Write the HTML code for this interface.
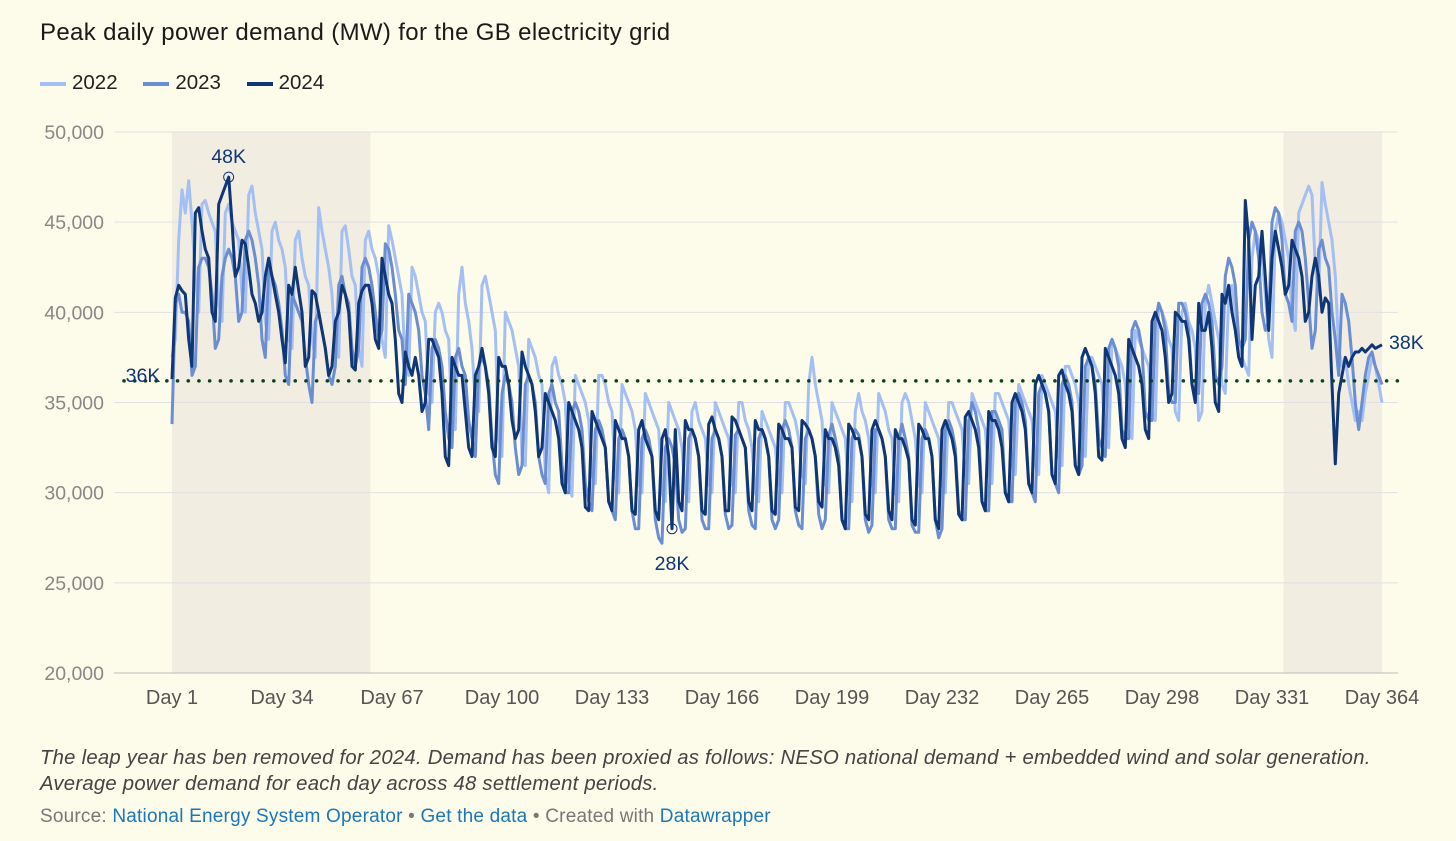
<!DOCTYPE html>
<html><head><meta charset="utf-8">
<style>
body{margin:0;background:#fdfbea;font-family:"Liberation Sans",sans-serif;width:1456px;height:841px;overflow:hidden;position:relative}
.t{position:absolute;white-space:nowrap}
a{color:#1b77b8;text-decoration:none}
</style></head><body>
<div class="t" style="left:40px;top:19px;font-size:24px;letter-spacing:0.35px;color:#1a1a1a">Peak daily power demand (MW) for the GB electricity grid</div>
<div class="t" style="left:40px;top:71px;font-size:20.5px;color:#222">
<span><span style="display:inline-block;width:26px;height:4px;background:#a3bff4;vertical-align:middle;margin-right:6px"></span>2022</span>
<span style="margin-left:20px"><span style="display:inline-block;width:26px;height:4px;background:#6b8dd2;vertical-align:middle;margin-right:6px"></span>2023</span>
<span style="margin-left:20px"><span style="display:inline-block;width:26px;height:4px;background:#0f3676;vertical-align:middle;margin-right:6px"></span>2024</span>
</div>
<svg id="chart" width="1456" height="841" style="position:absolute;left:0;top:0"></svg>
<div class="t" style="left:40px;top:745px;font-size:20.3px;letter-spacing:0.25px;font-style:italic;color:#444;line-height:26px">The leap year has ben removed for 2024. Demand has been proxied as follows: NESO national demand + embedded wind and solar generation.<br>Average power demand for each day across 48 settlement periods.</div>
<div class="t" style="left:40px;top:806px;font-size:19px;letter-spacing:0.2px;color:#777">Source: <a>National Energy System Operator</a> • <a>Get the data</a> • Created with <a>Datawrapper</a></div>
<script>
const yTicks=[20000,25000,30000,35000,40000,45000,50000];
const xTicks=[1,34,67,100,133,166,199,232,265,298,331,364];
const shadeRanges=[[1,60.5],[334.5,364]];
const refValue=36200;
const s2022=[37.5,38.5,44.0,46.8,45.5,47.3,45.0, 42.0,40.0,46.0,46.2,45.5,45.0,44.5, 40.5,39.5,45.5,46.0,45.0,44.5,44.0, 41.0,40.0,46.5,47.0,45.5,44.5,43.5, 39.5,38.5,44.5,45.0,44.0,43.5,42.5, 38.5,38.0,44.0,44.5,43.0,42.0,41.5, 38.5,37.5,45.8,44.5,43.5,42.5,41.0, 38.0,37.5,44.5,44.8,43.5,42.0,41.5, 38.0,37.0,44.0,44.5,43.5,43.0,42.0, 38.5,37.5,44.8,44.0,43.0,42.0,41.0, 37.0,36.5,42.5,42.0,41.0,40.0,39.5, 35.5,35.0,40.0,40.5,40.0,39.0,38.5, 34.0,33.5,41.0,42.5,40.5,39.5,38.0, 35.0,34.5,41.5,42.0,41.0,40.0,39.0, 33.0,32.0,40.0,39.5,39.0,38.0,37.0, 32.0,31.5,38.5,38.0,37.5,36.5,36.0, 31.0,30.0,37.0,37.5,36.5,36.0,35.0, 30.5,29.8,36.5,36.0,35.5,35.0,34.0, 31.0,30.5,36.5,36.5,36.0,35.0,34.5, 31.0,30.0,36.0,35.5,35.0,34.5,33.5, 30.5,30.0,35.5,35.0,34.5,34.0,33.5, 30.0,29.5,35.0,34.5,34.0,33.5,32.5, 30.0,29.5,34.5,35.0,34.0,33.5,33.0, 30.5,30.0,35.0,34.5,34.0,33.5,33.0, 30.5,30.0,35.0,35.0,34.0,33.5,32.5, 30.0,29.5,34.5,34.0,33.5,33.0,32.5, 30.5,30.0,35.0,35.0,34.5,34.0,33.0, 31.0,30.5,36.0,37.5,36.0,35.0,34.0, 30.5,30.0,35.0,34.5,34.0,33.5,33.0, 30.0,29.5,34.5,35.5,34.5,34.0,33.0, 30.5,30.0,35.5,35.0,34.5,33.5,33.0, 30.0,29.5,35.0,35.5,35.0,34.0,33.0, 30.5,30.0,35.0,34.5,34.0,33.5,33.0, 30.5,30.0,35.0,35.0,34.5,34.0,33.5, 31.0,30.5,35.5,35.0,34.5,34.0,33.5, 31.0,30.5,35.5,35.5,35.0,34.5,34.0, 31.5,31.0,36.0,35.5,35.0,34.5,34.0, 31.5,31.0,36.5,36.0,35.5,35.0,34.5, 32.0,31.5,37.0,37.0,36.5,36.0,35.0, 32.5,32.0,37.5,37.5,37.0,36.5,36.0, 33.0,32.5,38.5,38.0,37.5,37.0,36.0, 33.5,33.0,39.0,38.5,38.0,37.5,37.0, 34.5,34.0,40.5,40.0,39.5,38.5,38.0, 34.5,34.0,40.0,40.5,39.5,39.0,38.0, 34.0,34.5,40.5,41.5,40.5,39.5,38.5, 36.0,35.5,41.0,41.5,40.0,38.5,37.5, 37.0,36.5,43.0,44.5,44.0,43.0,41.0, 38.5,37.5,44.5,45.5,45.0,44.0,43.0, 40.0,39.0,45.5,46.0,46.5,47.0,46.5, 42.5,41.0,47.2,46.0,45.0,44.0,42.0, 38.0,37.0,37.5,36.0,35.0,34.0,34.5, 34.0,35.5,36.5,37.5,37.0,36.0,35.0];
const s2023=[33.8,40.5,41.0,40.0,40.0,39.5,36.5, 37.0,42.5,43.0,43.0,42.5,41.0,38.0, 38.5,42.0,43.0,43.5,43.0,42.0,39.5, 40.0,44.0,44.5,44.0,43.0,41.5,38.5, 37.5,42.5,42.0,41.5,40.5,39.0,36.5, 36.0,41.0,40.5,40.0,39.5,37.5,36.0, 35.0,39.5,40.0,39.0,38.0,36.5,36.0, 37.0,41.5,42.0,41.0,40.5,38.0,37.0, 38.0,42.5,43.0,42.5,41.5,40.0,38.5, 39.0,43.8,43.5,42.5,41.0,39.0,38.5, 36.0,41.0,40.5,40.0,39.0,36.5,35.5, 33.5,38.0,38.5,38.0,37.0,34.5,33.0, 32.5,37.5,38.0,37.0,36.5,34.0,33.0, 32.0,37.0,37.5,37.0,36.0,33.0,31.0, 30.5,35.5,36.5,36.0,35.0,32.5,31.0, 31.5,36.0,36.5,36.0,35.0,32.0,31.0, 30.5,35.5,36.0,35.0,34.5,31.5,30.0, 30.0,34.5,35.0,34.5,33.5,30.5,29.5, 29.0,33.5,34.0,33.5,32.5,29.5,29.0, 28.5,33.0,33.5,33.0,32.0,29.0,28.0, 28.0,33.0,33.5,33.0,32.0,28.5,27.5, 27.2,32.5,33.0,32.5,31.5,28.5,27.8, 28.0,33.0,33.5,33.0,32.0,28.5,28.0, 28.0,33.0,33.5,33.0,32.0,28.8,28.0, 28.2,33.2,33.5,33.0,32.5,29.0,28.2, 28.0,33.0,33.5,33.0,32.0,28.5,28.0, 28.5,33.5,34.0,33.5,32.5,29.0,28.2, 28.0,33.0,33.5,33.0,32.0,28.8,28.0, 28.5,33.2,33.8,33.0,32.0,28.5,28.0, 28.0,33.0,33.5,33.2,32.0,28.5,27.8, 28.2,33.5,33.5,33.0,32.0,28.5,28.0, 28.0,33.0,33.8,33.0,32.0,28.2,27.8, 27.8,33.0,33.5,33.0,32.0,28.5,27.5, 28.0,33.5,34.0,33.5,32.5,29.0,28.5, 28.5,34.0,35.0,34.5,33.5,29.5,29.0, 29.0,34.5,34.5,34.0,33.5,30.0,29.5, 29.5,35.0,35.5,35.0,34.0,30.5,30.0, 29.5,35.5,36.0,35.5,34.5,31.0,30.5, 30.0,36.0,36.5,36.0,35.0,31.5,31.0, 31.5,37.0,37.5,37.0,36.0,33.0,32.5, 32.0,38.0,38.5,38.0,37.0,33.5,33.0, 33.0,39.0,39.5,39.0,38.0,34.5,34.0, 34.0,39.5,40.5,40.0,39.0,35.5,35.0, 35.0,40.5,40.5,40.0,39.0,36.0,35.5, 35.5,40.5,41.0,40.5,39.5,36.5,36.0, 37.0,42.0,43.0,42.5,41.5,38.5,38.0, 38.5,44.0,45.0,44.5,43.0,40.0,39.0, 39.5,45.0,45.8,45.5,44.0,41.0,40.5, 39.5,44.5,45.0,44.5,43.0,40.5,38.0, 39.0,43.5,44.0,43.0,42.5,40.0,38.5, 36.5,41.0,40.5,39.5,37.5,35.0,33.5, 35.0,36.5,37.5,37.8,37.0,36.5,36.0];
const s2024=[36.3,40.8,41.5,41.2,41.0,38.5,37.0, 45.5,45.8,44.5,43.5,43.0,40.0,39.5, 46.0,46.5,47.0,47.5,45.0,42.0,42.5, 44.0,43.8,42.5,41.0,40.5,39.5,40.0, 42.0,43.0,42.0,41.0,40.0,38.5,37.2, 41.5,41.0,42.5,41.2,40.0,37.0,37.5, 41.2,41.0,40.0,39.0,38.0,36.5,37.0, 39.5,40.0,41.5,41.0,40.0,37.0,36.8, 40.5,41.2,41.5,41.5,40.5,38.5,38.0, 43.0,42.0,41.0,40.5,38.5,35.5,35.0, 37.8,37.0,36.5,37.5,36.5,34.5,35.0, 38.5,38.5,38.0,37.5,35.5,32.0,31.5, 37.5,37.0,36.5,36.5,34.5,32.5,32.0, 36.5,37.0,38.0,37.0,35.5,32.5,32.0, 37.5,37.0,37.0,36.0,34.0,33.0,33.5, 37.8,37.0,36.5,36.0,34.5,32.0,32.5, 35.5,35.0,34.5,34.0,33.0,30.5,30.0, 35.0,34.5,34.0,33.5,32.5,29.2,29.0, 34.5,34.0,33.5,33.0,32.5,29.5,29.0, 34.0,33.5,33.0,33.0,32.0,29.0,28.8, 33.5,34.0,33.0,32.5,32.0,29.0,28.5, 33.0,33.5,32.0,28.0,33.5,29.5,29.0, 34.0,33.5,33.5,33.0,32.0,29.0,28.8, 33.8,34.2,33.5,33.0,32.0,29.0,29.0, 34.2,34.0,33.5,33.0,32.5,29.5,29.0, 34.0,33.5,33.5,33.0,32.0,29.0,28.8, 33.8,33.5,33.0,33.0,32.5,29.2,29.0, 34.0,33.8,33.5,33.0,32.0,29.5,29.2, 33.5,33.0,33.0,32.5,31.5,28.5,28.0, 33.8,33.5,33.0,33.0,32.0,28.8,28.5, 33.5,34.0,33.5,33.0,32.0,29.0,28.5, 33.5,33.0,33.0,32.5,31.8,28.5,28.2, 33.8,33.5,33.0,33.0,32.0,28.5,28.0, 33.5,34.0,33.5,33.0,32.0,28.8,28.5, 34.2,34.5,34.0,33.5,32.5,29.5,29.0, 34.5,34.0,34.0,33.5,32.5,30.0,29.5, 35.0,35.5,35.0,34.5,33.5,30.5,30.0, 36.0,36.5,36.0,35.5,34.5,31.0,30.5, 36.5,36.8,36.0,35.5,34.5,31.5,31.0, 37.5,38.0,37.5,37.0,35.5,32.0,31.8, 38.0,37.5,37.0,36.5,35.5,33.0,32.5, 38.5,38.0,37.5,37.0,36.0,33.5,33.0, 39.5,40.0,39.5,39.0,37.5,35.0,35.5, 40.0,39.8,39.5,39.5,38.5,36.0,35.0, 40.5,39.0,39.0,40.0,38.0,35.0,34.5, 41.0,40.5,41.5,40.0,39.0,37.5,37.0, 46.2,44.0,38.5,41.5,42.0,44.5,42.0, 39.0,43.0,44.5,43.5,42.5,41.0,41.5, 44.0,43.5,43.0,42.0,39.5,40.0,42.0, 43.0,42.0,40.0,40.8,40.5,36.0,31.6, 35.5,36.5,37.5,37.0,37.5,37.8,37.8, 38.0,37.8,38.0,38.2,38.0,38.1,38.2];
const seriesList=[{name:'2022',data:s2022,color:'#a3bff4'},{name:'2023',data:s2023,color:'#6b8dd2'},{name:'2024',data:s2024,color:'#0f3676'}];

const NS='http://www.w3.org/2000/svg';
const svg=document.getElementById('chart');
const X0=172,X1=1382,Y0=673,Y1=132;
const xs=d=>X0+(d-1)*(X1-X0)/363;
const ys=v=>Y0-(v-20000)*(Y0-Y1)/30000;
function mk(tag,attrs){const e=document.createElementNS(NS,tag);for(const k in attrs)e.setAttribute(k,attrs[k]);svg.appendChild(e);return e;}
shadeRanges.forEach((r,i)=>{const e=mk('rect',{x:xs(r[0]),y:Y1,width:xs(r[1])-xs(r[0]),height:Y0-Y1,fill:'#f1ede0'});

});
yTicks.forEach(v=>{const g=mk('line',{x1:114,x2:1398,y1:ys(v),y2:ys(v),stroke:v===20000?'#bbb':'#e0e0e6','stroke-width':1});


const t=mk('text',{x:104,y:ys(v)+7,'text-anchor':'end','font-size':19.5,fill:'#888','font-family':'Liberation Sans'});t.textContent=v.toLocaleString('en-US');

});
xTicks.forEach(d=>{const t=mk('text',{x:xs(d),y:704,'text-anchor':'middle','font-size':20,fill:'#555','font-family':'Liberation Sans'});t.textContent='Day '+d;

});
seriesList.forEach(s=>{const p=s.data.slice(0,364).map((v,i)=>(i?'L':'M')+xs(i+1).toFixed(1)+','+ys(v*1000).toFixed(1)).join('');
const e=mk('path',{d:p,fill:'none',stroke:s.color,'stroke-width':3,'stroke-linejoin':'round'});

});
const rl=mk('line',{x1:124,x2:1398,y1:ys(refValue),y2:ys(refValue),stroke:'#0c4022','stroke-width':3.5,'stroke-dasharray':'0.1 10.6','stroke-linecap':'round'});


function lab(txt,x,y,anchor,name){const t=mk('text',{x:x,y:y,'text-anchor':anchor,'font-size':19.5,fill:'#0f3676','font-family':'Liberation Sans'});t.textContent=txt;

}
lab('36K',143,382,'middle','reference-label');
const maxI=s2024.indexOf(Math.max(...s2024)),minI=s2024.indexOf(Math.min(...s2024.slice(0,200)));
[[maxI,'max'],[minI,'min']].forEach(([i,n])=>{const c=mk('circle',{cx:xs(i+1),cy:ys(s2024[i]*1000),r:5,fill:'none',stroke:'#0f3676','stroke-width':1});

});
lab(Math.round(s2024[maxI])+'K',xs(maxI+1),163,'middle','max-label');
lab(Math.round(s2024[minI])+'K',xs(minI+1),570,'middle','min-label');
lab(Math.round(s2024[363])+'K',1389,349,'start','end-label');
</script>
</body></html>
